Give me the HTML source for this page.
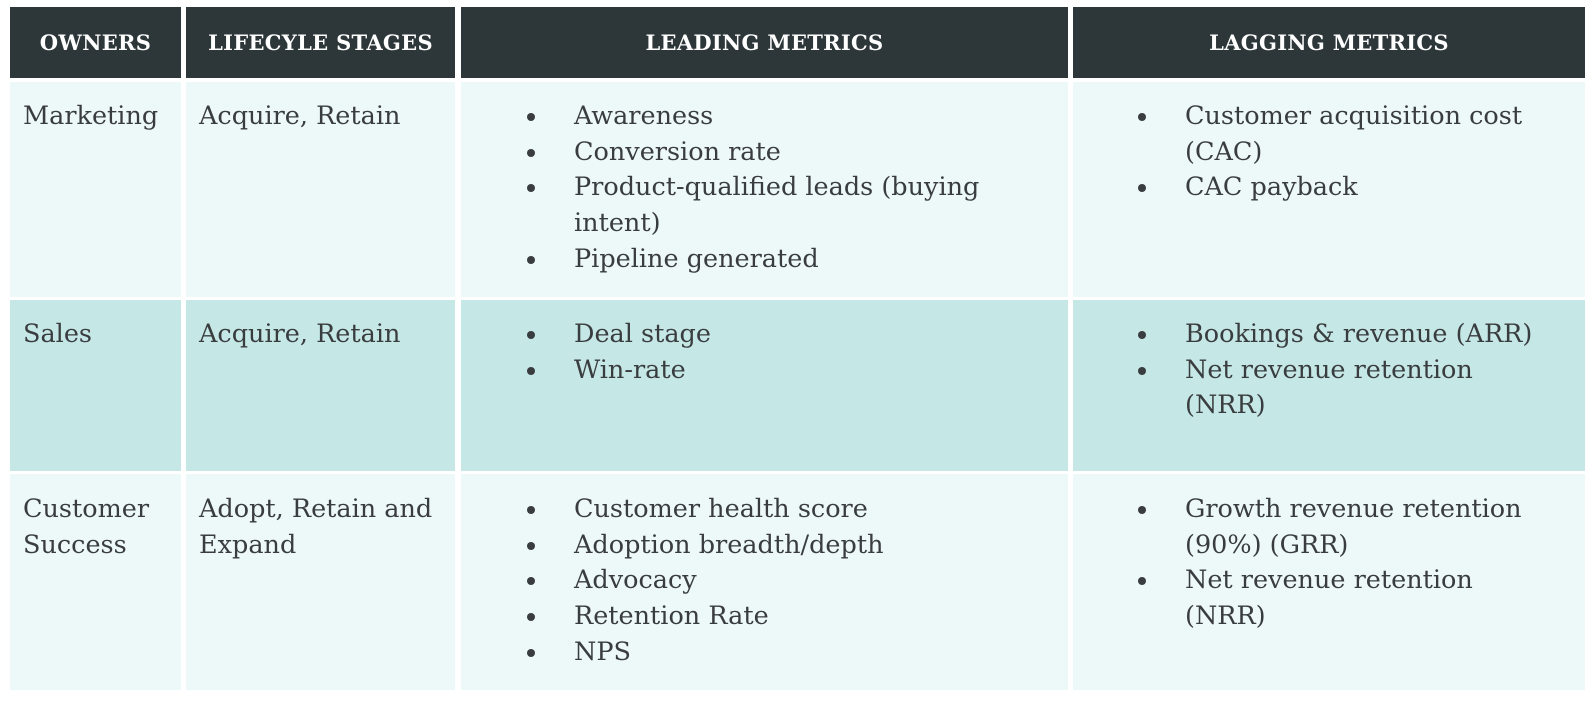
<!DOCTYPE html>
<html><head><meta charset="utf-8"><style>
body{margin:0;width:1595px;height:701px;background:#fff;position:relative;overflow:hidden;font-family:"DejaVu Serif","Liberation Serif",serif;color:#3a3d3f}
.c{position:absolute;box-sizing:border-box}
.h{background:#2d3739;color:#fff;font-weight:bold;font-size:21px;display:flex;align-items:center;justify-content:center;letter-spacing:0.3px}
.l{background:#edf9f9}.d{background:#c5e7e6}
.t{position:absolute;font-size:25.5px;line-height:35.7px;white-space:nowrap}
.b{position:absolute;width:8px;height:8px;border-radius:50%;background:#3a3d3f}
</style></head><body>
<div class="c h" style="left:10px;top:7px;width:171px;height:71px">OWNERS</div>
<div class="c h" style="left:186px;top:7px;width:269px;height:71px">LIFECYLE STAGES</div>
<div class="c h" style="left:461px;top:7px;width:607px;height:71px">LEADING METRICS</div>
<div class="c h" style="left:1073px;top:7px;width:512px;height:71px">LAGGING METRICS</div>

<div class="c l" style="left:10px;top:82px;width:171px;height:215px"></div>
<div class="c l" style="left:186px;top:82px;width:269px;height:215px"></div>
<div class="c l" style="left:461px;top:82px;width:607px;height:215px"></div>
<div class="c l" style="left:1073px;top:82px;width:512px;height:215px"></div>

<div class="c d" style="left:10px;top:300px;width:171px;height:171px"></div>
<div class="c d" style="left:186px;top:300px;width:269px;height:171px"></div>
<div class="c d" style="left:461px;top:300px;width:607px;height:171px"></div>
<div class="c d" style="left:1073px;top:300px;width:512px;height:171px"></div>

<div class="c l" style="left:10px;top:474px;width:171px;height:216px"></div>
<div class="c l" style="left:186px;top:474px;width:269px;height:216px"></div>
<div class="c l" style="left:461px;top:474px;width:607px;height:216px"></div>
<div class="c l" style="left:1073px;top:474px;width:512px;height:216px"></div>

<div class="t" style="left:23px;top:99px">Marketing</div>
<div class="t" style="left:199px;top:99px">Acquire, Retain</div>
<div class="t" style="left:574px;top:99px">Awareness<br>Conversion rate<br>Product-qualified leads (buying<br>intent)<br>Pipeline generated</div>
<div class="b" style="left:527px;top:113px"></div><div class="b" style="left:527px;top:149px"></div><div class="b" style="left:527px;top:184px"></div><div class="b" style="left:527px;top:256px"></div>
<div class="t" style="left:1185px;top:99px">Customer acquisition cost<br>(CAC)<br>CAC payback</div>
<div class="b" style="left:1138px;top:113px"></div><div class="b" style="left:1138px;top:184px"></div>

<div class="t" style="left:23px;top:317px">Sales</div>
<div class="t" style="left:199px;top:317px">Acquire, Retain</div>
<div class="t" style="left:574px;top:317px">Deal stage<br>Win-rate</div>
<div class="b" style="left:527px;top:331px"></div><div class="b" style="left:527px;top:367px"></div>
<div class="t" style="left:1185px;top:317px">Bookings &amp; revenue (ARR)<br>Net revenue retention<br>(NRR)</div>
<div class="b" style="left:1138px;top:331px"></div><div class="b" style="left:1138px;top:367px"></div>

<div class="t" style="left:23px;top:492px">Customer<br>Success</div>
<div class="t" style="left:199px;top:492px">Adopt, Retain and<br>Expand</div>
<div class="t" style="left:574px;top:492px">Customer health score<br>Adoption breadth/depth<br>Advocacy<br>Retention Rate<br>NPS</div>
<div class="b" style="left:527px;top:506px"></div><div class="b" style="left:527px;top:542px"></div><div class="b" style="left:527px;top:577px"></div><div class="b" style="left:527px;top:613px"></div><div class="b" style="left:527px;top:649px"></div>
<div class="t" style="left:1185px;top:492px">Growth revenue retention<br>(90%) (GRR)<br>Net revenue retention<br>(NRR)</div>
<div class="b" style="left:1138px;top:506px"></div><div class="b" style="left:1138px;top:577px"></div>
</body></html>
